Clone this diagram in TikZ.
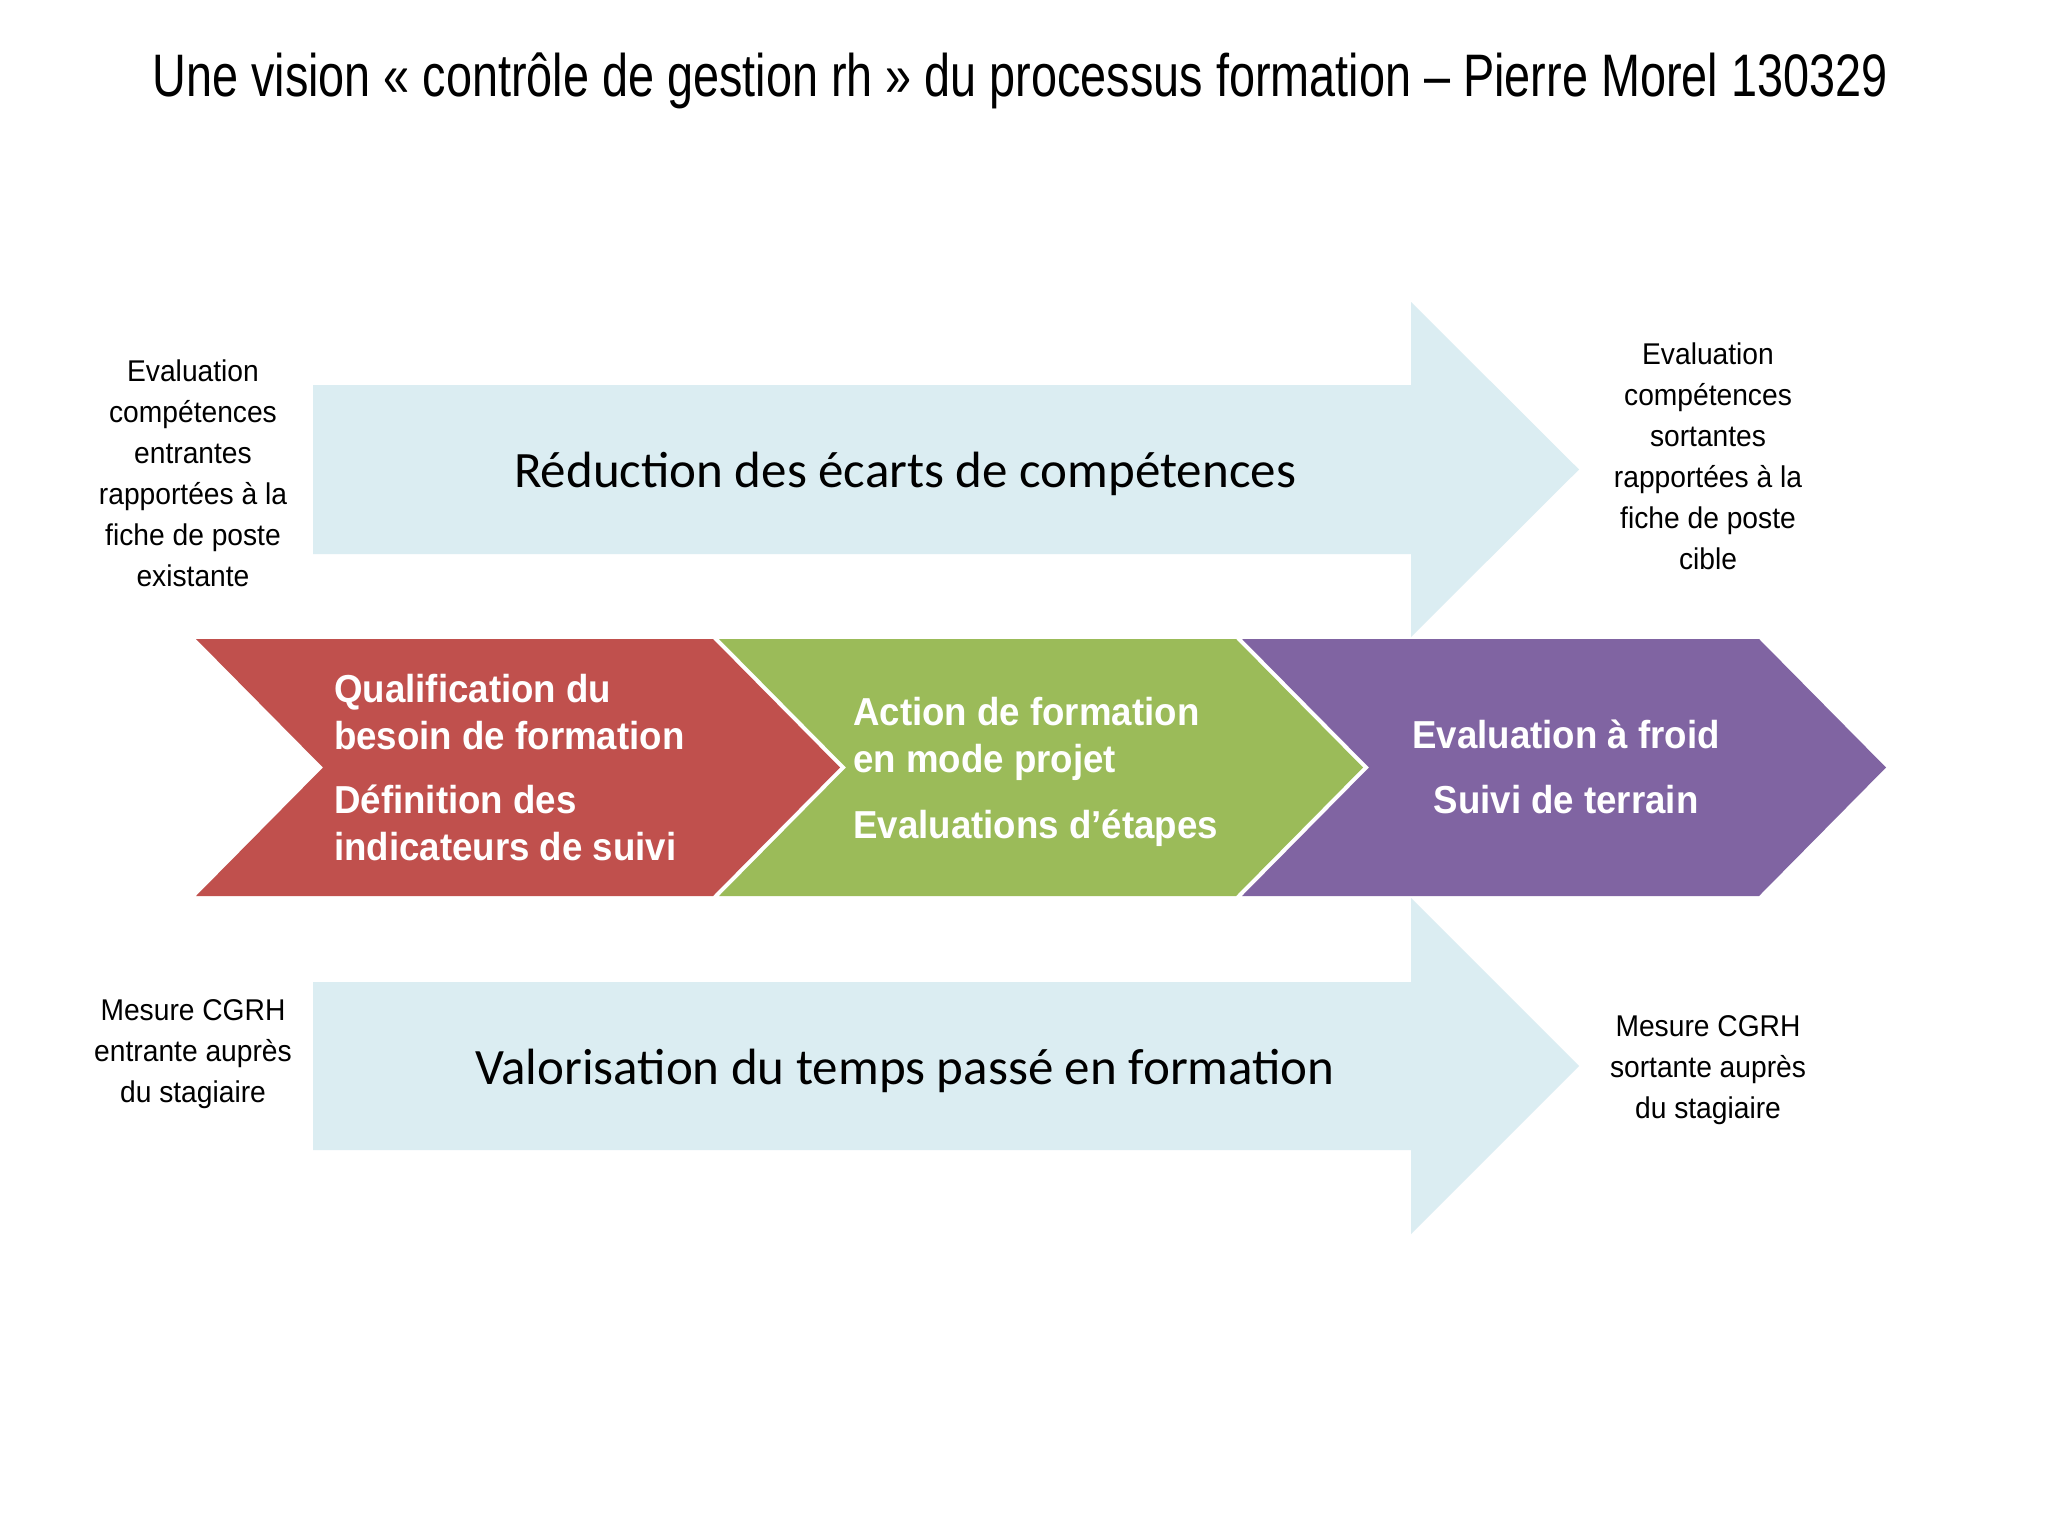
\documentclass[tikz,border=0pt]{standalone}
\usepackage{fontspec}
\setmainfont{Liberation Sans}
\newfontfamily\arialn{Liberation Sans}[FakeStretch=0.94]
\newfontfamily\arialt{Liberation Sans}[FakeStretch=0.78]
\newfontfamily\calib{Carlito}
\definecolor{chred}{HTML}{C0504D}
\definecolor{chgreen}{HTML}{9BBB59}
\definecolor{chpurple}{HTML}{8064A2}
\definecolor{lblue}{HTML}{DBEDF2}
\begin{document}
\begin{tikzpicture}[x=1pt,y=-1pt,
  bigarrow/.style={fill=lblue,draw=none},
  chev/.style={draw=none},
  sidetext/.style={font=\arialn\fontsize{30}{41}\selectfont,align=center,text=black,inner sep=0pt},
  chevtext/.style={font=\arialn\bfseries\fontsize{39}{47}\selectfont,text=white,inner sep=0pt},
  arrowtext/.style={font=\calib\fontsize{51}{60}\selectfont,text=black,inner sep=0pt},
  titletext/.style={font=\arialt\fontsize{60}{70}\selectfont,text=black,inner sep=0pt}]
\useasboundingbox (0,0) rectangle (2048,1536);
\fill[white] (0,0) rectangle (2048,1536);

% title
\node[titletext] (title) at (1020,81) {Une vision « contrôle de gestion rh » du processus formation – Pierre Morel 130329};

% big light-blue arrows
\path[bigarrow] (313,385) -- (1411,385) -- (1411,302) -- (1579,469.5) -- (1411,637) -- (1411,554) -- (313,554) -- cycle;
\path[bigarrow] (313,982) -- (1411,982) -- (1411,898) -- (1579,1066) -- (1411,1234) -- (1411,1150) -- (313,1150) -- cycle;
\node[arrowtext] (reduc) at (905,474) {Réduction des écarts de compétences};
\node[arrowtext] (valor) at (905,1071) {Valorisation du temps passé en formation};

% chevrons
\path[chev,fill=chred] (196,639) -- (713,639) -- (840,767.5) -- (713,896) -- (196,896) -- (323,767.5) -- cycle;
\path[chev,fill=chgreen] (719,639) -- (1236,639) -- (1363,767.5) -- (1236,896) -- (719,896) -- (846,767.5) -- cycle;
\path[chev,fill=chpurple] (1242,639) -- (1759,639) -- (1886,767.5) -- (1759,896) -- (1242,896) -- (1369,767.5) -- cycle;

\node[chevtext,anchor=west,align=left] (qualif) at (334,768) {Qualification du\\besoin de formation\\[17pt]Définition des\\indicateurs de suivi};
\node[chevtext,anchor=west,align=left] (action) at (853,772) {Action de formation\\en mode projet\\[19pt]Evaluations d’étapes};
\node[chevtext,align=center] (evalf) at (1566,767) {Evaluation à froid\\[18pt]Suivi de terrain};

% side texts
\node[sidetext] (inTop) at (193,473) {Evaluation\\compétences\\entrantes\\rapportées à la\\fiche de poste\\existante};
\node[sidetext] (outTop) at (1708,456) {Evaluation\\compétences\\sortantes\\rapportées à la\\fiche de poste\\cible};
\node[sidetext] (inBot) at (193,1054) {Mesure CGRH\\entrante auprès\\du stagiaire};
\node[sidetext] (outBot) at (1708,1070) {Mesure CGRH\\sortante auprès\\du stagiaire};
\end{tikzpicture}
\end{document}
